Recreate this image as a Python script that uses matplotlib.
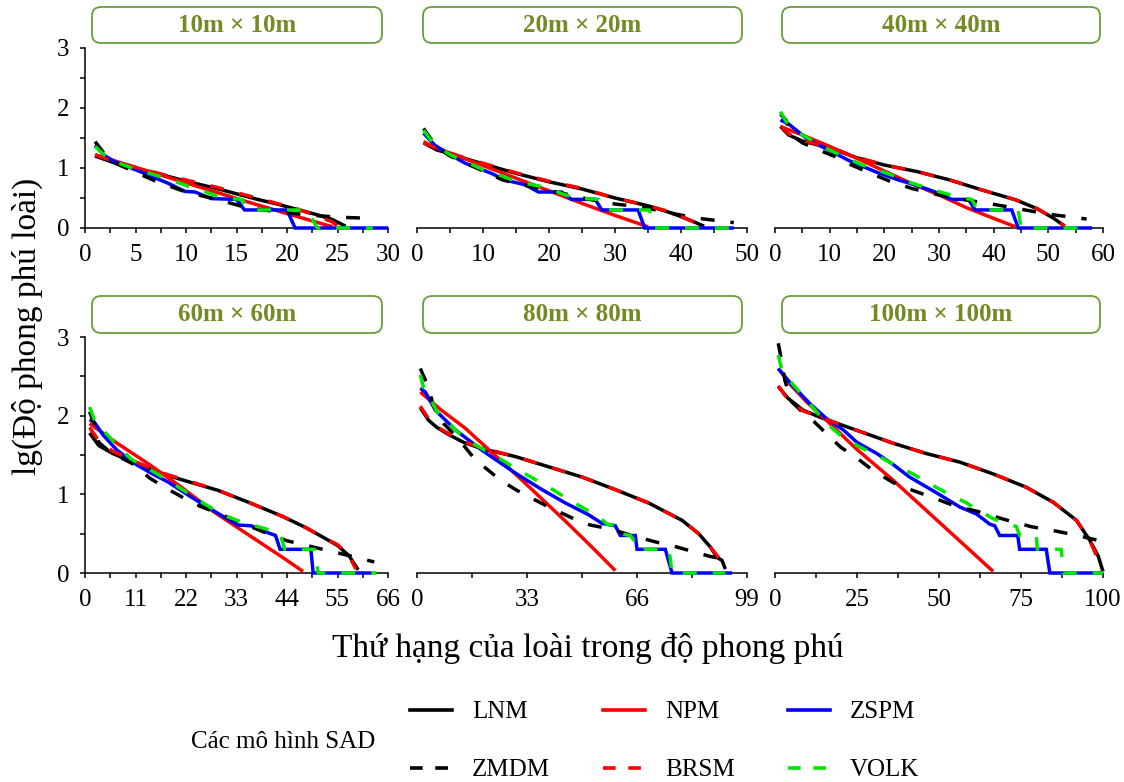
import matplotlib
matplotlib.use("Agg")
import matplotlib.pyplot as plt
from matplotlib.lines import Line2D
from matplotlib.patches import FancyBboxPatch
from matplotlib.ticker import MultipleLocator

plt.rcParams['font.family'] = ['Liberation Serif', 'DejaVu Serif']

# rank-abundance curves: (rank, lg abundance)
# ---- 10m x 10m ----
lnm_10 = [(1, 1.20), (3, 1.08), (5, 1.00), (8, 0.87), (10, 0.78), (13, 0.66), (15, 0.57),
          (17, 0.48), (19, 0.40), (21, 0.31), (23, 0.22), (24.5, 0.14), (25.8, 0.03)]
npm_10 = [(1, 1.22), (6, 0.96), (11, 0.70), (16, 0.44), (20, 0.24), (24.5, 0.02)]
zspm_10 = [(1, 1.38), (2, 1.20), (3, 1.10), (5, 0.97), (6.6, 0.86), (8.3, 0.74), (9.9, 0.61),
           (10.9, 0.60), (12.5, 0.49), (15, 0.477), (15.8, 0.301), (20, 0.301), (20.8, 0.0), (30, 0.0)]
zmdm_10 = [(1, 1.44), (2, 1.22), (3, 1.08), (5, 0.93), (7, 0.78), (10, 0.60), (13, 0.48),
           (16, 0.34), (19, 0.27), (22, 0.22), (25, 0.18), (28.5, 0.16)]
brsm_10 = [(1, 1.22), (3, 1.10), (5, 1.01), (8, 0.88), (10, 0.80), (13, 0.68), (15, 0.59),
           (17, 0.50), (19, 0.41), (21, 0.32), (23, 0.20), (24.5, 0.10), (25, 0.03)]
volk_10 = [(1, 1.36), (2, 1.20), (3, 1.10), (5, 0.98), (7, 0.88), (9, 0.77), (10.5, 0.68),
           (12, 0.60), (13.5, 0.50), (15.5, 0.477), (16.2, 0.301), (22, 0.301), (23, 0.0), (28.5, 0.0)]

# ---- 20m x 20m ----
lnm_20 = [(1, 1.42), (3, 1.30), (5, 1.24), (7.5, 1.15), (10, 1.07), (15, 0.91), (20, 0.77),
          (25, 0.65), (30, 0.50), (35, 0.37), (38, 0.27), (40, 0.19), (42, 0.10), (43.5, 0.03)]
npm_20 = [(1, 1.42), (5, 1.25), (10, 1.04), (15, 0.83), (20, 0.62), (25, 0.41), (30, 0.21), (35, 0.02)]
zspm_20 = [(1, 1.58), (2.7, 1.38), (4.7, 1.24), (7.3, 1.08), (11.3, 0.91), (13.3, 0.80), (16.4, 0.72),
           (18.4, 0.60), (21.9, 0.60), (23.4, 0.477), (27, 0.477), (28, 0.301), (33.5, 0.301),
           (34.5, 0.0), (48, 0.0)]
zmdm_20 = [(1, 1.66), (2, 1.50), (3, 1.35), (5, 1.20), (7, 1.10), (9, 1.00), (11, 0.90), (13, 0.80),
           (16, 0.72), (19, 0.65), (22, 0.58), (26, 0.48), (30, 0.40), (34, 0.35), (38, 0.26),
           (42, 0.17), (45, 0.13), (48, 0.09)]
brsm_20 = [(1, 1.44), (3, 1.32), (5, 1.25), (7.5, 1.16), (10, 1.08), (15, 0.92), (20, 0.78),
           (25, 0.66), (30, 0.50), (35, 0.37), (38, 0.28), (40, 0.19), (42, 0.10), (43.5, 0.03)]
volk_20 = [(1, 1.63), (2, 1.48), (3, 1.38), (5, 1.22), (7.5, 1.10), (10, 0.97), (12.5, 0.88),
           (15, 0.78), (17.5, 0.72), (19.5, 0.68), (22, 0.57), (24, 0.50), (27.5, 0.477),
           (28.5, 0.301), (35.2, 0.301), (36, 0.0), (49.5, 0.0)]

# ---- 40m x 40m ----
lnm_40 = [(1, 1.69), (2.5, 1.55), (5, 1.45), (8, 1.38), (11, 1.30), (15, 1.17), (20, 1.05),
          (26, 0.94), (32, 0.80), (38, 0.63), (44, 0.47), (48, 0.32), (51, 0.16), (53, 0.03)]
npm_40 = [(1, 1.69), (5, 1.55), (10, 1.36), (15, 1.16), (20, 0.95), (25, 0.74), (30, 0.55),
          (35, 0.34), (40, 0.16), (44, 0.02)]
zspm_40 = [(1, 1.80), (2.4, 1.74), (6.1, 1.47), (9.8, 1.30), (13.4, 1.13), (18.3, 0.94), (22.6, 0.80),
           (25.6, 0.72), (29.3, 0.60), (32.3, 0.477), (35.4, 0.477), (36.6, 0.301), (43.3, 0.301),
           (44.5, 0.0), (58, 0.0)]
zmdm_40 = [(1, 1.90), (2, 1.80), (3, 1.55), (5, 1.42), (8, 1.30), (11, 1.19), (14, 1.05), (17, 0.93),
           (21, 0.78), (25, 0.66), (29, 0.57), (34, 0.48), (39, 0.41), (44, 0.33), (50, 0.23), (57, 0.15)]
brsm_40 = [(1, 1.70), (2.5, 1.57), (5, 1.46), (8, 1.39), (11, 1.31), (15, 1.18), (20, 1.05),
           (26, 0.94), (32, 0.80), (38, 0.63), (44, 0.47), (48, 0.32), (51, 0.16), (53, 0.03)]
volk_40 = [(1, 1.94), (2, 1.78), (4, 1.60), (6, 1.50), (8, 1.40), (10, 1.30), (13, 1.17), (16, 1.05),
           (19, 0.96), (22, 0.86), (25, 0.75), (28, 0.66), (31, 0.58), (34, 0.50), (36, 0.477),
           (37, 0.301), (44.5, 0.301), (45, 0.0), (58, 0.0)]

# ---- 60m x 60m ----
lnm_60 = [(1, 1.78), (3, 1.62), (6, 1.52), (10, 1.42), (14, 1.33), (18, 1.24), (22, 1.17), (29, 1.05),
          (36, 0.89), (43, 0.72), (48, 0.58), (52, 0.45), (55, 0.35), (57.5, 0.22), (59.5, 0.04)]
npm_60 = [(1, 1.90), (7, 1.65), (14, 1.38), (21, 1.09), (28, 0.78), (36, 0.47), (43, 0.20), (47.5, 0.02)]
zspm_60 = [(1, 1.95), (2, 1.92), (4, 1.75), (7, 1.56), (11.4, 1.37), (15, 1.25), (18, 1.16), (23, 0.97),
           (28.9, 0.76), (33.3, 0.61), (36.2, 0.60), (39, 0.53), (41.5, 0.477), (42.5, 0.301),
           (49.2, 0.301), (49.7, 0.0), (62.5, 0.0)]
zmdm_60 = [(1, 2.05), (2, 1.90), (3, 1.66), (5, 1.56), (8, 1.46), (11, 1.37), (14, 1.21), (17, 1.10),
           (21, 0.97), (25, 0.85), (29, 0.76), (34, 0.64), (39, 0.52), (44, 0.41), (49, 0.34),
           (54, 0.27), (59, 0.20), (63, 0.14)]
brsm_60 = [(1, 1.85), (3, 1.68), (6, 1.55), (10, 1.44), (14, 1.34), (18, 1.25), (22, 1.18), (29, 1.05),
           (36, 0.89), (43, 0.72), (48, 0.58), (52, 0.45), (55, 0.36), (57.5, 0.22), (59, 0.05)]
volk_60 = [(1, 2.11), (2, 1.95), (4.2, 1.80), (7, 1.62), (10, 1.45), (14, 1.32), (18, 1.18), (22, 1.03),
           (26, 0.88), (30, 0.74), (34, 0.65), (37, 0.60), (40, 0.55), (42.5, 0.50), (43.5, 0.301),
           (50, 0.301), (50.8, 0.0), (63.5, 0.0)]

# ---- 80m x 80m ----
lnm_80 = [(1, 2.10), (3.5, 1.94), (6, 1.85), (9.5, 1.76), (14, 1.66), (19.5, 1.58), (29.5, 1.48),
          (39.5, 1.35), (49.5, 1.22), (59.5, 1.06), (69.5, 0.89), (79.5, 0.67), (84.5, 0.50),
          (88, 0.33), (90, 0.20), (91.5, 0.16), (92.5, 0.05)]
npm_80 = [(1, 2.30), (7, 2.08), (14.5, 1.84), (22, 1.55), (29.5, 1.26), (37, 0.96), (44.5, 0.66),
          (52, 0.35), (59.5, 0.03)]
zspm_80 = [(1, 2.35), (2.5, 2.30), (5.5, 2.07), (11.5, 1.82), (19.5, 1.56), (29.5, 1.27), (37.5, 1.06),
           (44.5, 0.89), (51.5, 0.74), (55.5, 0.63), (59.5, 0.60), (61, 0.477), (65.5, 0.477),
           (66, 0.301), (74.5, 0.301), (76.5, 0.0), (94.5, 0.0)]
zmdm_80 = [(1, 2.60), (2, 2.50), (3, 2.41), (5, 2.12), (8, 1.90), (12.5, 1.70), (17.5, 1.44), (21, 1.32),
           (25, 1.18), (30, 1.05), (34, 0.96), (39, 0.85), (43, 0.77), (48, 0.67), (52, 0.61),
           (58, 0.56), (65, 0.47), (72, 0.39), (78, 0.33), (83, 0.27), (88, 0.21), (93, 0.17)]
brsm_80 = [(1, 2.12), (3.5, 1.96), (6, 1.86), (9.5, 1.77), (14, 1.67), (19.5, 1.59), (29.5, 1.48),
           (39.5, 1.35), (49.5, 1.22), (59.5, 1.06), (69.5, 0.89), (79.5, 0.67), (84.5, 0.50),
           (88, 0.33), (89.5, 0.25), (91, 0.17)]
volk_80 = [(1, 2.52), (2, 2.35), (3, 2.30), (6, 2.05), (10, 1.88), (14, 1.72), (19.5, 1.58), (25, 1.45),
           (30, 1.32), (35, 1.20), (40, 1.08), (46, 0.92), (51, 0.80), (55, 0.70), (57, 0.62),
           (60.5, 0.60), (61, 0.50), (64, 0.477), (65, 0.42), (68, 0.41), (68.5, 0.301), (75.5, 0.301),
           (76, 0.18), (76.5, 0.0), (92.5, 0.0)]

# ---- 100m x 100m ----
lnm_100 = [(1, 2.37), (4, 2.22), (8.6, 2.07), (13.7, 1.98), (21.8, 1.86), (36, 1.65), (46, 1.52),
           (56.3, 1.41), (66.5, 1.26), (76.6, 1.09), (84.8, 0.90), (91.9, 0.67), (95.9, 0.42),
           (98.5, 0.22), (100, 0.02)]
npm_100 = [(1, 2.60), (5, 2.38), (10, 2.16), (15.7, 1.94), (25, 1.57), (36, 1.18), (46, 0.80),
           (56, 0.42), (66.5, 0.02)]
zspm_100 = [(1, 2.60), (5, 2.40), (10.7, 2.15), (15.5, 1.97), (20.8, 1.82), (25, 1.66), (31, 1.52),
            (36, 1.38), (41, 1.22), (48, 1.05), (52, 0.95), (56.3, 0.84), (61.4, 0.75), (63, 0.70),
            (65.5, 0.62), (67, 0.60), (68.5, 0.477), (74, 0.477), (74.6, 0.301), (82.7, 0.301),
            (83.8, 0.0), (100, 0.0)]
zmdm_100 = [(1, 2.92), (2, 2.70), (3, 2.45), (5, 2.18), (8, 2.06), (12, 1.92), (16, 1.76), (20, 1.60),
            (25, 1.46), (30, 1.30), (36, 1.15), (42, 1.05), (48, 0.96), (55, 0.85), (62, 0.78),
            (70, 0.68), (78, 0.59), (86, 0.53), (93, 0.47), (100, 0.40)]
brsm_100 = [(1, 2.38), (4, 2.20), (8.6, 2.06), (13.7, 1.98), (21.8, 1.86), (36, 1.65), (46, 1.52),
            (56.3, 1.41), (66.5, 1.26), (76.6, 1.09), (84.8, 0.90), (91.9, 0.67), (95.9, 0.42),
            (98, 0.22), (99.5, 0.03)]
volk_100 = [(1, 2.77), (2, 2.60), (5, 2.42), (10, 2.18), (15.7, 1.90), (20, 1.75), (25.9, 1.60),
            (30, 1.52), (34, 1.43), (38, 1.34), (42, 1.26), (46, 1.16), (50, 1.07), (54, 0.98),
            (58, 0.90), (62, 0.80), (66.5, 0.69), (73.6, 0.59), (74.6, 0.477), (79.7, 0.46),
            (80, 0.301), (87.3, 0.301), (87.8, 0.0), (100, 0.0)]

panel_titles = ['10m × 10m', '20m × 20m', '40m × 40m', '60m × 60m', '80m × 80m', '100m × 100m']
x_max = [30, 50, 60, 66, 99, 100]
x_step = [5, 10, 10, 11, 33, 25]

model_names = ['LNM', 'NPM', 'ZSPM', 'ZMDM', 'BRSM', 'VOLK']
model_colors = ['#000000', '#ff0000', '#0000ff', '#000000', '#ff0000', '#00e600']
model_dashed = [False, False, False, True, True, True]

panel_series = [
    [lnm_10, npm_10, zspm_10, zmdm_10, brsm_10, volk_10],
    [lnm_20, npm_20, zspm_20, zmdm_20, brsm_20, volk_20],
    [lnm_40, npm_40, zspm_40, zmdm_40, brsm_40, volk_40],
    [lnm_60, npm_60, zspm_60, zmdm_60, brsm_60, volk_60],
    [lnm_80, npm_80, zspm_80, zmdm_80, brsm_80, volk_80],
    [lnm_100, npm_100, zspm_100, zmdm_100, brsm_100, volk_100],
]

# ---- layout in pixels ----
W, H = 1124, 782
col_px = [(85, 388), (417, 747), (775, 1103)]
row_px = [(48, 228), (337, 573)]
strip_row = [(7, 43), (296, 333)]
strip_col = [(92, 382), (423, 742), (782, 1100)]

fig = plt.figure(figsize=(W / 100, H / 100), dpi=100)

for i, series in enumerate(panel_series):
    r, c = divmod(i, 3)
    x0, x1 = col_px[c]
    y0, y1 = row_px[r]
    ax = fig.add_axes([x0 / W, (H - y1) / H, (x1 - x0) / W, (y1 - y0) / H])

    for k, pts in enumerate(series):
        xs = [p[0] for p in pts]
        ys = [p[1] for p in pts]
        line, = ax.plot(xs, ys, color=model_colors[k], lw=2.5, clip_on=False, zorder=3 + k * 0.1,
                        solid_capstyle='butt', solid_joinstyle='miter')
        if model_dashed[k]:
            line.set_dashes((4.0, 4.6))

    ax.set_xlim(0, x_max[i])
    ax.set_ylim(0, 3)
    ax.xaxis.set_major_locator(MultipleLocator(x_step[i]))
    ax.xaxis.set_minor_locator(MultipleLocator(x_step[i] / 2))
    ax.yaxis.set_major_locator(MultipleLocator(1))
    ax.yaxis.set_minor_locator(MultipleLocator(0.5))
    for s in ['top', 'right']:
        ax.spines[s].set_visible(False)
    for s in ['left', 'bottom']:
        ax.spines[s].set_linewidth(1.1)
    ax.tick_params(which='both', direction='out', length=3.8, width=1.1, labelsize=18, pad=7.5)
    ax.tick_params(axis='y', which='both', pad=7.5)
    if c > 0:
        ax.spines['left'].set_visible(False)
        ax.tick_params(axis='y', which='both', left=False, labelleft=False)

    # facet strip
    sx0, sx1 = strip_col[c]
    sy0, sy1 = strip_row[r]
    box = FancyBboxPatch((sx0 / 100, (H - sy1) / 100), (sx1 - sx0) / 100, (sy1 - sy0) / 100,
                         boxstyle='round,pad=0,rounding_size=0.09', transform=fig.dpi_scale_trans,
                         fc='white', ec='#6a9e3a', lw=1.3)
    fig.add_artist(box)
    fig.text((sx0 + sx1) / 2 / W, 1 - (sy0 + sy1) / 2 / H, panel_titles[i], ha='center', va='center',
             fontsize=18, fontweight='bold', color='#748a22')

fig.text(27 / W, 1 - 326 / H, 'lg(Độ phong phú loài)', rotation=90, ha='center', va='center', fontsize=24)
fig.text(588 / W, 1 - 648 / H, 'Thứ hạng của loài trong độ phong phú', ha='center', va='center', fontsize=24)

# legend, filled column by column so rows read LNM NPM ZSPM / ZMDM BRSM VOLK
order = [0, 3, 1, 4, 2, 5]
handles = []
for k in order:
    h = Line2D([], [], color=model_colors[k], lw=2.6)
    if model_dashed[k]:
        h.set_dashes((3.5, 3.5))
    handles.append(h)
fig.legend(handles, [model_names[k] for k in order], ncol=3, loc='center left',
           bbox_to_anchor=(410 / W, 1 - 741 / H), frameon=False, fontsize=18,
           handlelength=1.68, handletextpad=0.8, columnspacing=2.12, labelspacing=1.42,
           borderpad=0, borderaxespad=0)
fig.text(191 / W, 1 - 742 / H, 'Các mô hình SAD', ha='left', va='center', fontsize=18)

fig.savefig('out.png', dpi=100)
